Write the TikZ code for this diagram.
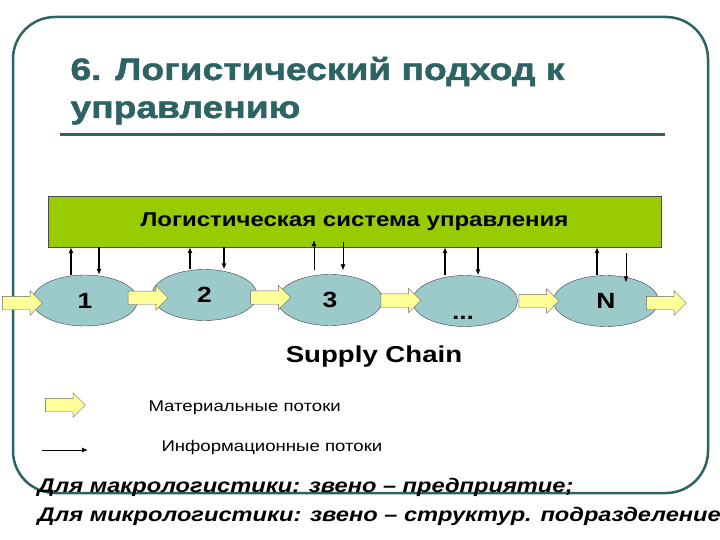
\documentclass[tikz,border=0pt]{standalone}
\usepackage{fontspec}
\setmainfont{Liberation Sans}[FakeStretch=1.2]
\newfontfamily\heavyfont{Liberation Sans Bold}[FakeStretch=1.2,FakeBold=1.6]
\usetikzlibrary{shapes.geometric,shapes.arrows,arrows.meta}
\definecolor{slidetone}{HTML}{2E6363}
\definecolor{boxgreen}{HTML}{99CC00}
\definecolor{linkblue}{HTML}{9CCACA}
\definecolor{flowyellow}{HTML}{FFFF99}

\begin{document}
\begin{tikzpicture}[x=1pt,y=-1pt,
  link/.style={ellipse,draw=black!75,fill=linkblue,minimum width=105pt,minimum height=51pt,inner sep=0pt,font=\fontsize{22}{26}\selectfont\bfseries},
  matflow/.style={single arrow,draw=black!60,fill=flowyellow,minimum height=40pt,minimum width=24pt,single arrow head extend=5.5pt,inner xsep=0pt,inner ysep=6.5pt},
  info/.style={-{Latex[length=6pt,width=5pt]},line width=1.3pt},
  infothin/.style={info,line width=0.7pt}]
\useasboundingbox (0,0) rectangle (720,540);
\fill[white] (0,0) rectangle (720,540);

% slide frame and title
\draw[slidetone][line width=2.5pt][rounded corners=42pt] (13,17) rectangle (708,493);
\node[anchor=base west,text=slidetone,font=\fontsize{31}{36}\heavyfont] (ttl1) at (67,80) {6. Логистический подход к};
\node[anchor=base west,text=slidetone,font=\fontsize{31}{36}\heavyfont] (ttl2) at (67,118) {управлению};
\draw[slidetone][line width=3pt] (60,135) -- (665,135);

% control system
\node[draw=black!70,fill=boxgreen,minimum width=613pt,minimum height=51pt,inner sep=0pt,font=\fontsize{20}{24}\selectfont\bfseries] (lsu) at (354.5,221.5) {Логистическая система управления};

% chain links
\node[link] (e1) at (85,300.5) {1};
\node[link] (e2) at (204.5,295) {2};
\node[link] (e3) at (330,300) {3};
\node[link] (e4) at (465,301) {};
\node[font=\fontsize{22}{26}\selectfont\bfseries] (dots) at (463,318) {...};
\node[link] (eN) at (606,301) {N};

% material flows
\node[matflow] (m0) at (19,303) {};
\path (e1) -- node[matflow] (m1) {} (e2);
\path (e2) -- node[matflow] (m2) {} (e3);
\path (e3) -- node[matflow] (m3) {} (e4);
\path (e4) -- node[matflow] (m4) {} (eN);
\node[matflow] (m5) at (663,303) {};

% information flows
\foreach \e/\u/\d in {e1/-14/14, e2/-14.5/19.5, e4/-20/13}{
  \draw[info] ([xshift=\u pt]\e.north) -- ([xshift=\u pt]\e.north |- lsu.south);
  \draw[info] ([xshift=\d pt]\e.north |- lsu.south) -- ([xshift=\d pt]\e.north);
}
\draw[infothin] ([xshift=-16pt,yshift=4pt]e3.north) -- ([xshift=-16pt,yshift=7pt]e3.north |- lsu.south);
\draw[infothin] ([xshift=13pt,yshift=5pt]e3.north |- lsu.south) -- ([xshift=13pt,yshift=4pt]e3.north);
\draw[info] ([xshift=-9pt]eN.north) -- ([xshift=-9pt]eN.north |- lsu.south);
\draw[infothin] ([xshift=20pt,yshift=-6pt]eN.north |- lsu.south) -- ([xshift=20pt,yshift=-7pt]eN.north);

\node[anchor=base,font=\fontsize{23}{27}\selectfont\bfseries] (sc) at (374,362) {Supply Chain};

% legend
\node[matflow] (lg1) at (62,405) {};
\node[anchor=base west,font=\fontsize{15.5}{18}\selectfont] (lgmat) at (145,411) {Материальные потоки};
\coordinate (lg2a) at (42,450);
\coordinate (lg2b) at (88,450);
\draw[info][line width=1pt] (lg2a) -- (lg2b);
\node[anchor=base west,font=\fontsize{15.5}{18}\selectfont] (lginf) at (158,451) {Информационные потоки};

% notes
\node[anchor=base west,font=\fontsize{19.7}{24}\selectfont\bfseries\itshape] (nt1) at (34,492) {Для макрологистики: звено – предприятие;};
\node[anchor=base west,font=\fontsize{19.7}{24}\selectfont\bfseries\itshape] (nt2) at (34,521) {Для микрологистики: звено – структур. подразделение};
\end{tikzpicture}
\end{document}
